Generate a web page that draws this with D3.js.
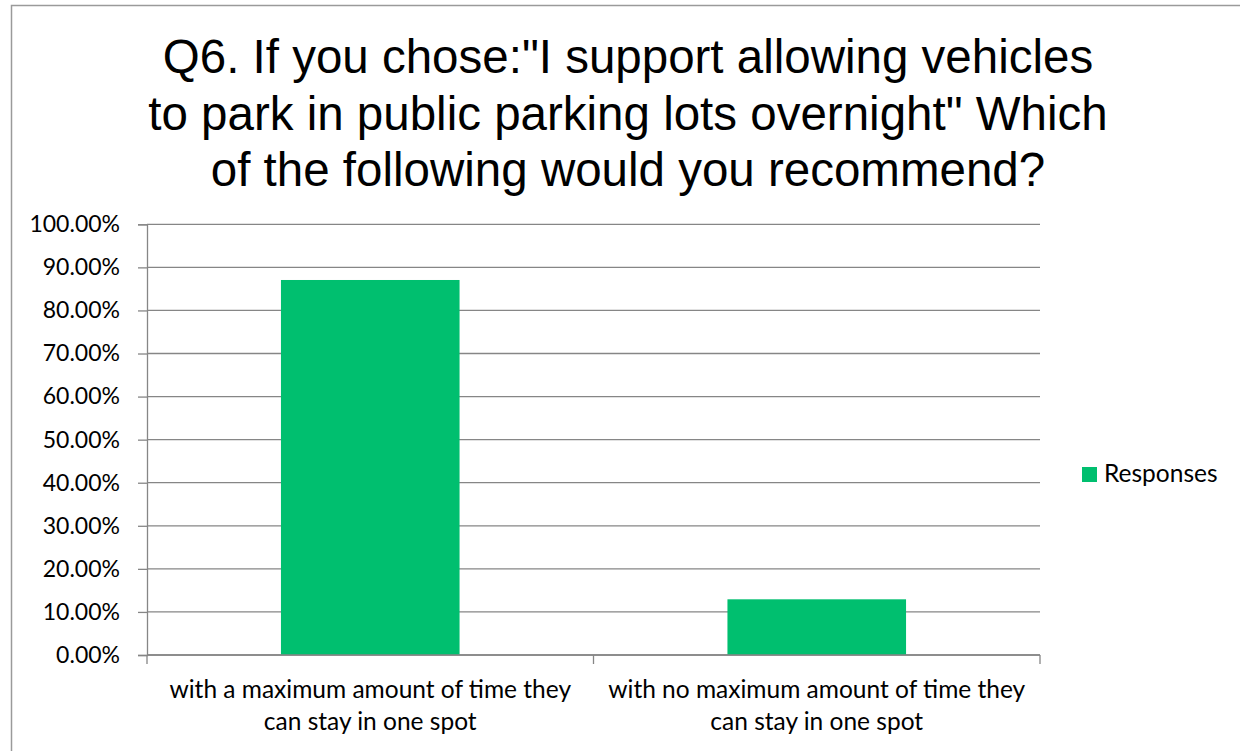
<!DOCTYPE html>
<html><head><meta charset="utf-8">
<script src="https://cdn.jsdelivr.net/npm/d3@7"></script>
<style>body{margin:0;background:#fff;} svg{display:block;}</style>
</head><body>
<script>
const titleLines = ["Q6. If you chose:\"I support allowing vehicles", "to park in public parking lots overnight\" Which", "of the following would you recommend?"];
const categories = [["with a maximum amount of time they","can stay in one spot"],["with no maximum amount of time they","can stay in one spot"]];
const categoryKeys = ["max","nomax"];
const values = [0.8707, 0.1293];
const tickValues = [0,0.1,0.2,0.3,0.4,0.5,0.6,0.7,0.8,0.9,1.0];
const seriesName = "Responses";

const W = 1240, H = 751;
const svg = d3.select("body").append("svg").attr("width", W).attr("height", H);
svg.append("rect").attr("x",11.5).attr("y",5.5).attr("width",1240).attr("height",800)
  .attr("fill","#fff").attr("stroke","#9a9a9a").attr("stroke-width",1.5);

const m = {left:147, right:1040, top:224.3, bottom:655};
const x = d3.scaleBand().domain(categoryKeys).range([m.left, m.right]).paddingInner(0.6).paddingOuter(0.3);
const y = d3.scaleLinear().domain([0,1]).range([m.bottom, m.top]);

// title
const title = svg.append("g").attr("font-family","'Liberation Sans', Arial, sans-serif").attr("font-size",47.5).attr("fill","#000").attr("text-anchor","middle");
titleLines.forEach((t,i)=> title.append("text").attr("x",628).attr("y",73+i*56.5).text(t));

// gridlines
svg.append("g").selectAll("line").data(tickValues).join("line")
  .attr("x1",m.left).attr("x2",m.right).attr("y1",d=>y(d)).attr("y2",d=>y(d))
  .attr("stroke","#868686").attr("stroke-width",1.3);

// bars
svg.append("g").selectAll("rect").data(values).join("rect")
  .attr("x",(d,i)=>x(categoryKeys[i])).attr("width",x.bandwidth())
  .attr("y",d=>y(d)).attr("height",d=>y(0)-y(d)).attr("fill","#00BF6F");

// y axis
const yAxis = d3.axisLeft(y).tickValues(tickValues).tickFormat(d=>(d*100).toFixed(2)+"%").tickSize(9).tickPadding(18);
const ya = svg.append("g").attr("transform",`translate(${m.left},0)`).call(yAxis);
ya.select(".domain").attr("stroke","#868686").attr("stroke-width",1.3);
ya.selectAll(".tick line").attr("stroke","#868686").attr("stroke-width",1.3);
ya.selectAll(".tick text").attr("font-family","Lato, 'Open Sans', sans-serif").attr("font-size",23).attr("fill","#000");

// x axis
const xEdge = d3.scaleLinear().domain([0,categoryKeys.length]).range([m.left,m.right]);
svg.append("line").attr("x1",m.left).attr("x2",m.right).attr("y1",m.bottom).attr("y2",m.bottom).attr("stroke","#868686").attr("stroke-width",1.3);
svg.append("g").selectAll("line").data(d3.range(categoryKeys.length+1)).join("line")
  .attr("x1",d=>xEdge(d)).attr("x2",d=>xEdge(d)).attr("y1",m.bottom).attr("y2",m.bottom+9)
  .attr("stroke","#868686").attr("stroke-width",1.3);
const cl = svg.append("g").attr("font-family","Lato, 'Open Sans', sans-serif").attr("font-size",24.5).attr("fill","#000").attr("text-anchor","middle");
categories.forEach((lines,i)=>{
  const cx = x(categoryKeys[i]) + x.bandwidth()/2;
  lines.forEach((t,j)=> cl.append("text").attr("x",cx).attr("y",698+j*32).text(t));
});

// legend
const lg = svg.append("g");
lg.append("rect").attr("x",1082).attr("y",467).attr("width",15).attr("height",15).attr("fill","#00BF6F");
lg.append("text").attr("x",1104).attr("y",482).attr("font-family","Lato, 'Open Sans', sans-serif").attr("font-size",24.5).attr("fill","#000").text(seriesName);
</script>
</body></html>
